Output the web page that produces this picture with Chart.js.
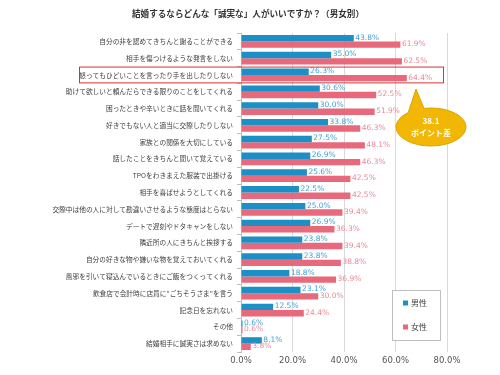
<!DOCTYPE html>
<html>
<head>
<meta charset="utf-8">
<script src="https://cdn.jsdelivr.net/npm/chart.js@4"></script>
<style>
  html, body { margin: 0; padding: 0; background: #fff; }
  #wrap { width: 500px; height: 375px; }
</style>
</head>
<body>
<div id="wrap"><canvas id="barChart" width="500" height="375"></canvas></div>
<script>
// data
const categories = [
    '自分の非を認めてきちんと謝ることができる',
    '相手を傷つけるような発言をしない',
    '怒ってもひどいことを言ったり手を出したりしない',
    '助けて欲しいと頼んだらできる限りのことをしてくれる',
    '困ったときや辛いときに話を聞いてくれる',
    '好きでもない人と適当に交際したりしない',
    '家族との関係を大切にしている',
    '話したことをきちんと聞いて覚えている',
    'TPOをわきまえた服装で出掛ける',
    '相手を喜ばせようとしてくれる',
    '交際中は他の人に対して勘違いさせるような態度はとらない',
    'デートで遅刻やドタキャンをしない',
    '隣近所の人にきちんと挨拶する',
    '自分の好きな物や嫌いな物を覚えておいてくれる',
    '風邪を引いて寝込んでいるときにご飯をつくってくれる',
    '飲食店で会計時に店員に“ごちそうさま”を言う',
    '記念日を忘れない',
    'その他',
    '結婚相手に誠実さは求めない'
];
const maleValues = [43.8, 35.0, 26.3, 30.6, 30.0, 33.8, 27.5, 26.9, 25.6, 22.5, 25.0, 26.9, 23.8, 23.8, 18.8, 23.1, 12.5, 0.6, 8.1];
const femaleValues = [61.9, 62.5, 64.4, 52.5, 51.9, 46.3, 48.1, 46.3, 42.5, 42.5, 39.4, 36.3, 39.4, 38.8, 36.9, 30.0, 24.4, 0.6, 3.8];
const seriesNames = ['男性', '女性'];
const titleText = '結婚するならどんな「誠実な」人がいいですか？（男女別）';
const calloutLines = ['38.1', 'ポイント差'];

const blue = '#1c8fc6';
const pink = '#e8687c';
const blueText = '#3ea3d8';
const pinkText = '#ea8a9b';

// title, value labels, highlight box, callout, legend
const extras = {
    id: 'extras',
    afterDatasetsDraw(chart) {
        const ctx = chart.ctx;
        ctx.save();

        // value labels
        ctx.font = '7.5px "DejaVu Sans"';
        ctx.textBaseline = 'middle';
        ctx.textAlign = 'left';
        chart.data.datasets.forEach((ds, i) => {
            const meta = chart.getDatasetMeta(i);
            ctx.fillStyle = i === 0 ? blueText : pinkText;
            meta.data.forEach((bar, j) => {
                ctx.fillText(ds.data[j].toFixed(1) + '%', bar.x + 1.5, bar.y - 0.5);
            });
        });

        // title
        ctx.font = 'bold 8.6px "Noto Sans CJK JP"';
        ctx.fillStyle = '#333';
        ctx.textAlign = 'center';
        ctx.fillText(titleText, 248, 14);

        // highlight around row 3
        const y = chart.scales.y;
        const band = (y.getPixelForValue(1) - y.getPixelForValue(0));
        const rowY = y.getPixelForValue(2);
        ctx.strokeStyle = '#e0302f';
        ctx.lineWidth = 1;
        ctx.strokeRect(79.5, rowY - band / 2 + 0.5, 364, band - 1);

        // callout bubble
        const cx = 431, cy = 127, rx = 35, ry = 19;
        ctx.beginPath();
        ctx.moveTo(416, 89);
        ctx.ellipse(cx, cy, rx, ry, 0, -1.77, -2.28, false);
        ctx.closePath();
        ctx.fillStyle = '#f2b705';
        ctx.fill();
        ctx.strokeStyle = '#d9a400';
        ctx.stroke();
        ctx.fillStyle = '#fff';
        ctx.font = 'bold 8px "Noto Sans CJK JP"';
        ctx.fillText(calloutLines[0], cx, cy - 6);
        ctx.fillText(calloutLines[1], cx, cy + 6);

        // legend box
        ctx.fillStyle = '#fff';
        ctx.fillRect(392, 290, 48, 50);
        ctx.strokeStyle = '#bfbfbf';
        ctx.strokeRect(392.5, 290.5, 48, 50);
        ctx.font = '8px "Noto Sans CJK JP"';
        ctx.textAlign = 'left';
        chart.data.datasets.forEach((ds, i) => {
            const ly = 303 + i * 24;
            ctx.fillStyle = ds.backgroundColor;
            ctx.fillRect(403, ly - 2.5, 5, 5);
            ctx.fillStyle = '#404040';
            ctx.fillText(ds.label, 411, ly);
        });

        ctx.restore();
    }
};

const ctxBar = document.getElementById('barChart').getContext('2d');
const barChart = new Chart(ctxBar, {
    type: 'bar',
    data: {
        labels: categories,
        datasets: [{
            label: seriesNames[0],
            data: maleValues,
            backgroundColor: blue,
            categoryPercentage: 0.76,
            barPercentage: 1
        }, {
            label: seriesNames[1],
            data: femaleValues,
            backgroundColor: pink,
            categoryPercentage: 0.76,
            barPercentage: 1
        }]
    },
    options: {
        indexAxis: 'y',
        responsive: false,
        animation: false,
        layout: { padding: { top: 33, right: 53, bottom: 0, left: 0 } },
        plugins: {
            legend: { display: false },
            title: { display: false },
            tooltip: { enabled: false }
        },
        scales: {
            x: {
                min: 0,
                max: 80,
                ticks: {
                    stepSize: 20,
                    color: '#555',
                    font: { family: 'DejaVu Sans', size: 8.5 },
                    padding: 4,
                    callback: v => v.toFixed(1) + '%'
                },
                grid: { color: '#d9d9d9', drawTicks: false },
                border: { display: false },
                afterFit: s => { s.height = 23; }
            },
            y: {
                ticks: {
                    color: '#404040',
                    font: { family: 'Noto Sans CJK JP', size: 6.7 },
                    padding: 4,
                    autoSkip: false
                },
                grid: { drawOnChartArea: false, drawTicks: true, tickLength: 4, color: '#bfbfbf' },
                border: { display: true, color: '#bfbfbf' },
                afterFit: s => { s.width = 241; }
            }
        }
    },
    plugins: [extras]
});
</script>
</body>
</html>
